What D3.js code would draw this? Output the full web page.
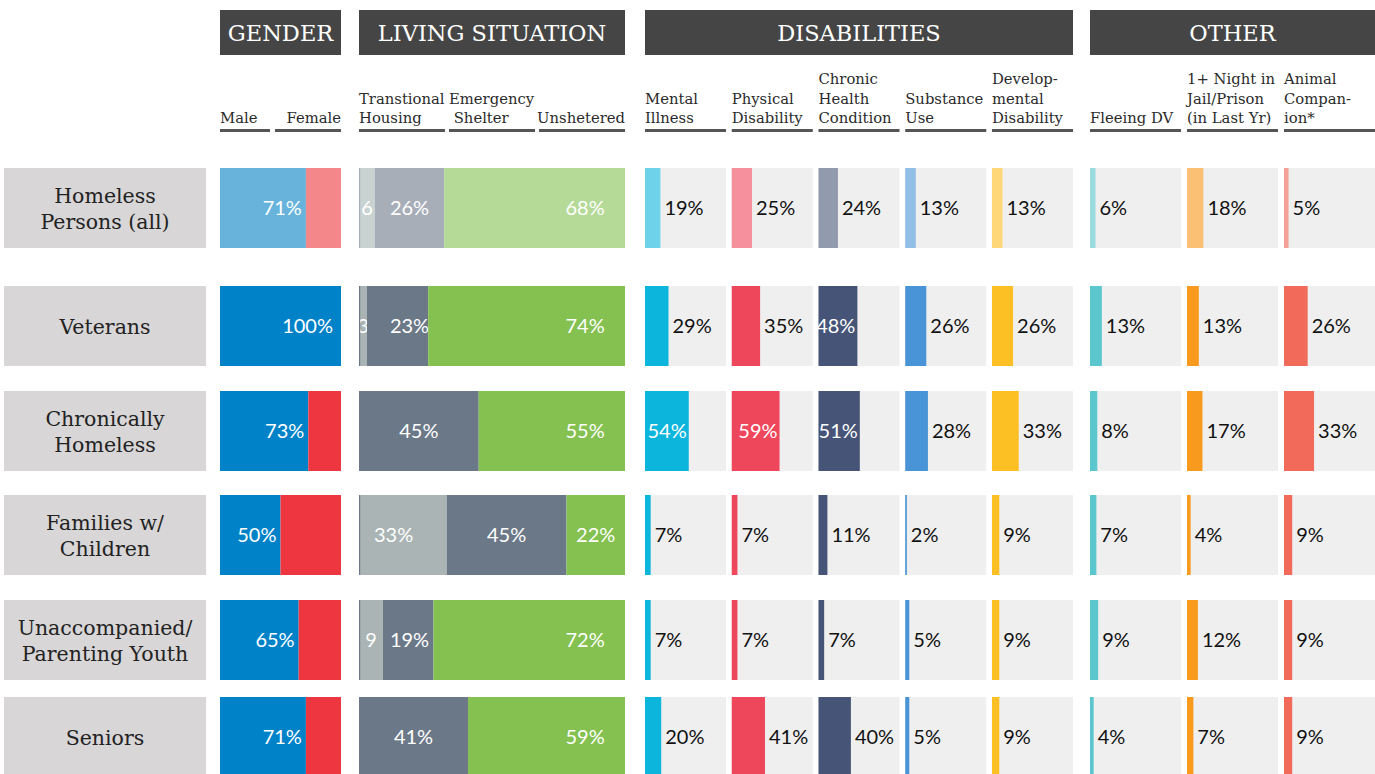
<!DOCTYPE html>
<html>
<head>
<meta charset="utf-8">
<script src="https://cdn.jsdelivr.net/npm/d3@7"></script>
<style>
  body { margin: 0; background: #fff; }
  svg { display: block; }
</style>
</head>
<body>
<svg id="chart" width="1375" height="774"></svg>
<script>
// ---- data ----
const groups = ["Homeless\nPersons (all)", "Veterans", "Chronically\nHomeless", "Families w/\nChildren", "Unaccompanied/\nParenting Youth", "Seniors"];
const male = [71, 100, 73, 50, 65, 71];
const transitional = [6, 3, 0, 33, 9, 0];
const emergency = [26, 23, 45, 45, 19, 41];
const unsheltered = [68, 74, 55, 22, 72, 59];

const disabilityKeys = ["Mental\nIllness", "Physical\nDisability", "Chronic\nHealth\nCondition", "Substance\nUse", "Develop-\nmental\nDisability"];
const mentalIllness = [19, 29, 54, 7, 7, 20];
const physicalDisability = [25, 35, 59, 7, 7, 41];
const chronicHealth = [24, 48, 51, 11, 7, 40];
const substanceUse = [13, 26, 28, 2, 5, 5];
const developmental = [13, 26, 33, 9, 9, 9];

const otherKeys = ["Fleeing DV", "1+ Night in\nJail/Prison\n(in Last Yr)", "Animal\nCompan-\nion*"];
const fleeingDV = [6, 13, 8, 7, 9, 4];
const jailPrison = [18, 13, 17, 4, 12, 7];
const animalCompanion = [5, 26, 33, 9, 9, 9];

// ---- layout ----
const rowTop = [168, 286, 391, 495, 600, 697];
const rowH = 80;
const SERIF = "'DejaVu Serif', serif";
const SANS = "Lato, 'Open Sans', sans-serif";

// strong colours, then the lighter tint used for the first ("all") row
const colors = {
  male: ["#0082c8", "#67b3dc"], female: ["#ee3640", "#f4878a"],
  trans: ["#aab4b4", "#c9d3d2"], emerg: ["#6b7888", "#a7aeb8"], unshel: ["#84c150", "#b5da98"],
  dis: [["#0bb5dc", "#6ed3ea"], ["#ee465b", "#f5909c"], ["#455477", "#929aae"], ["#4894d6", "#92bfe8"], ["#fcbf24", "#fed878"]],
  oth: [["#5bc6cd", "#9adbdf"], ["#f89a1e", "#fbc073"], ["#f26a5a", "#f5a196"]]
};
const tone = (pair, i) => pair[i === 0 ? 1 : 0];

const svg = d3.select("#chart");

// ---- section headers ----
const headers = [
  {label: "GENDER", x0: 220, x1: 341},
  {label: "LIVING SITUATION", x0: 359, x1: 625},
  {label: "DISABILITIES", x0: 645, x1: 1073},
  {label: "OTHER", x0: 1090, x1: 1375}
];
const hg = svg.append("g").selectAll("g").data(headers).enter().append("g");
hg.append("rect")
  .attr("x", d => d.x0).attr("y", 10)
  .attr("width", d => d.x1 - d.x0).attr("height", 45)
  .attr("fill", "#454545");
hg.append("text")
  .attr("x", d => (d.x0 + d.x1) / 2).attr("y", 41)
  .attr("text-anchor", "middle")
  .attr("fill", "#fff")
  .style("font-family", SERIF).style("font-size", "22.5px")
  .text(d => d.label);

// sub-column headers (multi-line, bottom aligned) with an underline bar
function subHeader(label, x0, x1, anchor) {
  const lines = label.split("\n");
  const tx = anchor === "end" ? x1 : x0;
  const t = svg.append("text")
    .attr("text-anchor", anchor || "start")
    .attr("fill", "#2b2b2b")
    .style("font-family", SERIF).style("font-size", "14.8px");
  lines.forEach((ln, k) => {
    t.append("tspan").attr("x", tx)
      .attr("y", 123 - (lines.length - 1 - k) * 19.5)
      .text(ln);
  });
  svg.append("rect")
    .attr("x", x0).attr("y", 129)
    .attr("width", x1 - x0).attr("height", 3)
    .attr("fill", "#555");
}

// ---- scales ----
const genderX = d3.scaleLinear().domain([0, 100]).range([220, 341]);
const livingX = d3.scaleLinear().domain([0, 100]).range([359, 625]);
const livingCols = d3.scaleBand().domain(["t", "e", "u"]).range([359, 625]).paddingInner(0.045);
const disX = d3.scaleBand().domain(d3.range(5)).range([645, 1073]).paddingInner(0.066);
const othX = d3.scaleBand().domain(d3.range(3)).range([1090, 1375]).paddingInner(0.062);

subHeader("Male", 220, 270);
subHeader("Female", 275, 341, "end");
subHeader("Transtional\nHousing", livingCols("t"), livingCols("t") + livingCols.bandwidth());
subHeader("Emergency\n Shelter", livingCols("e"), livingCols("e") + livingCols.bandwidth());
subHeader("Unshetered", livingCols("u"), livingCols("u") + livingCols.bandwidth(), "end");
disabilityKeys.forEach((k, j) => subHeader(k, disX(j), disX(j) + disX.bandwidth()));
otherKeys.forEach((k, j) => subHeader(k, othX(j), othX(j) + othX.bandwidth()));

// ---- rows ----
const rows = svg.append("g").selectAll("g").data(groups).enter().append("g")
  .attr("transform", (d, i) => "translate(0," + rowTop[i] + ")");

// row label boxes
rows.append("rect")
  .attr("x", 4).attr("width", 202).attr("height", rowH)
  .attr("fill", "#d8d6d7");
rows.each(function (d) {
  const lines = d.split("\n");
  const t = d3.select(this).append("text")
    .attr("text-anchor", "middle")
    .attr("fill", "#222")
    .style("font-family", SERIF).style("font-size", "20.5px");
  lines.forEach((ln, k) => {
    t.append("tspan").attr("x", 105)
      .attr("y", rowH / 2 + 8 + (k - (lines.length - 1) / 2) * 26)
      .text(ln);
  });
});

const pctStyle = sel => sel.style("font-family", SANS).style("font-size", "20px");

// gender
rows.append("rect")
  .attr("x", genderX(0)).attr("height", rowH)
  .attr("width", (d, i) => genderX(male[i]) - genderX(0))
  .attr("fill", (d, i) => tone(colors.male, i));
rows.append("rect")
  .attr("x", (d, i) => genderX(male[i])).attr("height", rowH)
  .attr("width", (d, i) => genderX(100) - genderX(male[i]))
  .attr("fill", (d, i) => tone(colors.female, i));
rows.append("text")
  .attr("x", (d, i) => genderX(male[i]) - (male[i] === 100 ? 8 : 4)).attr("y", rowH / 2 + 7)
  .attr("text-anchor", "end").attr("fill", "#fff")
  .call(pctStyle)
  .text((d, i) => male[i] + "%");

// living situation: stacked segments
const livingSeries = [
  {vals: transitional, col: colors.trans, pos: c => Math.min(c, livingX(13))},
  {vals: emergency, col: colors.emerg, pos: c => Math.max(c, livingX(19))},
  {vals: unsheltered, col: colors.unshel, pos: c => Math.max(c, livingX(85))}
];
rows.each(function (d, i) {
  const g = d3.select(this);
  let acc = 0;
  livingSeries.forEach(s => {
    const v = s.vals[i];
    if (v > 0) {
      const x0 = livingX(acc), x1 = livingX(acc + v);
      g.append("rect")
        .attr("x", x0).attr("width", x1 - x0).attr("height", rowH)
        .attr("fill", tone(s.col, i));
      g.append("text")
        .attr("x", s.pos((x0 + x1) / 2)).attr("y", rowH / 2 + 7)
        .attr("text-anchor", "middle").attr("fill", "#fff")
        .call(pctStyle)
        .text(v < 10 ? v : v + "%");
    }
    acc += v;
  });
  // thin darker edge on the left of the living bar
  g.append("rect")
    .attr("x", livingX(0)).attr("width", 1.2).attr("height", rowH)
    .attr("fill", tone(colors.emerg, i));
});

// single value cells
function cell(g, i, v, x0, w, pair) {
  const xs = d3.scaleLinear().domain([0, 100]).range([x0, x0 + w]);
  g.append("rect")
    .attr("x", x0).attr("width", w).attr("height", rowH)
    .attr("fill", "#efefef");
  g.append("rect")
    .attr("x", xs(0)).attr("width", xs(v) - xs(0)).attr("height", rowH)
    .attr("fill", tone(pair, i));
  const inside = v >= 45;
  g.append("text")
    .attr("x", inside ? xs(v) - 2 : xs(v) + 4).attr("y", rowH / 2 + 7)
    .attr("text-anchor", inside ? "end" : "start")
    .attr("fill", inside ? "#fff" : "#111")
    .call(pctStyle)
    .text(v + "%");
}
const disSeries = [mentalIllness, physicalDisability, chronicHealth, substanceUse, developmental];
const othSeries = [fleeingDV, jailPrison, animalCompanion];
rows.each(function (d, i) {
  const g = d3.select(this);
  disSeries.forEach((s, j) => cell(g, i, s[i], disX(j), disX.bandwidth(), colors.dis[j]));
  othSeries.forEach((s, j) => cell(g, i, s[i], othX(j), othX.bandwidth(), colors.oth[j]));
});
</script>
</body>
</html>
